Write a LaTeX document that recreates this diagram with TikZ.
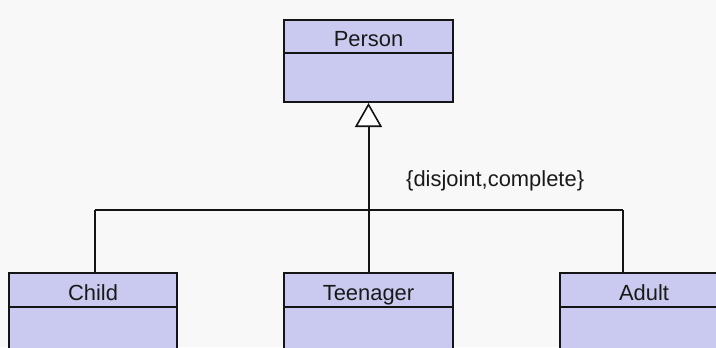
\documentclass[tikz,border=0pt]{standalone}
\usepackage{fontspec}
\setmainfont{Liberation Sans}
\usetikzlibrary{arrows.meta}
\definecolor{bgc}{RGB}{248,248,248}
\definecolor{boxc}{RGB}{202,202,240}
\definecolor{linec}{RGB}{20,20,20}
\begin{document}
\begin{tikzpicture}[x=1bp,y=-1bp,
  cls/.style={draw=linec,fill=boxc,line width=2bp,rectangle,inner sep=0pt,minimum width=168bp},
  lbl/.style={inner sep=0pt,anchor=base,font=\fontsize{22}{24}\selectfont,text=black!90},
  conn/.style={draw=linec,line width=2bp}]
\useasboundingbox (0,0) rectangle (716,347);
\fill[bgc] (0,0) rectangle (716,347);
\clip (0,0) rectangle (716,347);
% Person
\node[cls,minimum width=169bp,minimum height=82bp] (person) at (368.5,61) {};
\draw[conn] (284,53) -- (453,53);
\node[lbl] (personname) at (368.5,46) {Person};
% Children boxes (extend past bottom)
\node[cls,minimum height=140bp] (child) at (93,343) {};
\draw[conn] (9,307) -- (177,307);
\node[lbl] (childname) at (93,300) {Child};
\node[cls,minimum width=169bp,minimum height=140bp] (teen) at (368.5,343) {};
\draw[conn] (284,307) -- (453,307);
\node[lbl] (teenname) at (368.5,300) {Teenager};
\node[cls,minimum height=140bp] (adult) at (644,343) {};
\draw[conn] (560,307) -- (728,307);
\node[lbl] (adultname) at (644,300) {Adult};
% connectors
\coordinate (busL) at (95,210);
\coordinate (busM) at (368.5,210);
\coordinate (busR) at (623,210);
\draw[conn] (busL) -- (busR);
\draw[conn] (busL) -- (busL |- child.north);
\draw[conn] (busR) -- (busR |- adult.north);
\draw[conn] (busM) -- (teen.north);
\draw[conn,-{Triangle[open,width=27bp,length=24bp,fill=white,line width=1.6bp]}] (busM) -- (person.south);
\node[lbl,anchor=base west] (constraint) at (406,186) {\{disjoint,complete\}};
\end{tikzpicture}
\end{document}
